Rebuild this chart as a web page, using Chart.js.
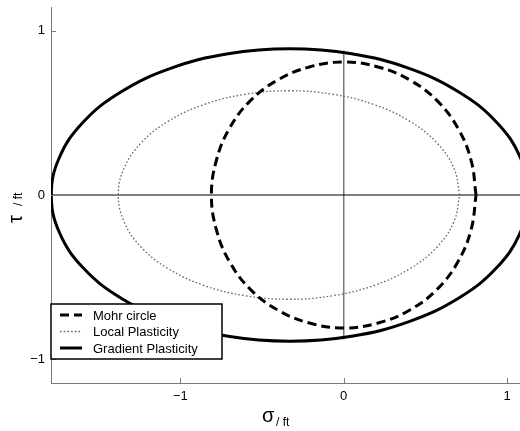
<!DOCTYPE html>
<html>
<head>
<meta charset="utf-8">
<script src="https://cdn.jsdelivr.net/npm/chart.js@4/dist/chart.umd.min.js"></script>
<style>
  html, body { margin: 0; padding: 0; background: #fff; }
  #wrap { width: 520px; height: 431px; }
</style>
</head>
<body>
<div id="wrap"><canvas id="mohrChart"></canvas></div>
<script>
// values (sigma / ft, tau / ft)
const seriesNames = ['Mohr circle', 'Local Plasticity', 'Gradient Plasticity'];

const mohrX = [0.81, 0.78, 0.70, 0.573, 0.405, 0.21, 0, -0.21, -0.405, -0.573, -0.70, -0.78, -0.81, -0.78, -0.70, -0.573, -0.405, -0.21, 0, 0.21, 0.405, 0.573, 0.70, 0.78, 0.81];
const mohrY = [0, 0.21, 0.405, 0.573, 0.70, 0.78, 0.81, 0.78, 0.70, 0.573, 0.405, 0.21, 0, -0.21, -0.405, -0.573, -0.70, -0.78, -0.81, -0.78, -0.70, -0.573, -0.405, -0.21, 0];

const localX = [0.71, 0.674, 0.57, 0.404, 0.188, -0.065, -0.335, -0.605, -0.858, -1.074, -1.24, -1.344, -1.38, -1.344, -1.24, -1.074, -0.858, -0.605, -0.335, -0.065, 0.188, 0.404, 0.57, 0.674, 0.71];
const localY = [0, 0.164, 0.318, 0.449, 0.55, 0.613, 0.635, 0.613, 0.55, 0.449, 0.318, 0.164, 0, -0.164, -0.318, -0.449, -0.55, -0.613, -0.635, -0.613, -0.55, -0.449, -0.318, -0.164, 0];

const gradX = [1.13, 1.08, 0.934, 0.702, 0.40, 0.048, -0.33, -0.708, -1.06, -1.362, -1.594, -1.74, -1.79, -1.74, -1.594, -1.362, -1.06, -0.708, -0.33, 0.048, 0.40, 0.702, 0.934, 1.08, 1.13];
const gradY = [0, 0.23, 0.445, 0.629, 0.771, 0.86, 0.89, 0.86, 0.771, 0.629, 0.445, 0.23, 0, -0.23, -0.445, -0.629, -0.771, -0.86, -0.89, -0.86, -0.771, -0.629, -0.445, -0.23, 0];

// axis reference lines
const hAxisX = [-1.79, 1.08];
const hAxisY = [0, 0];
const vAxisX = [0, 0];
const vAxisY = [-0.88, 0.88];

const tickValues = [-1, 0, 1];
const tickLabels = ['\u22121', '0', '1'];
const xRange = [-1.792, 1.079];
const yRange = [-1.145, 1.145];

const toPts = (xs, ys) => xs.map((x, i) => ({ x: x, y: ys[i] }));

const FONT = '"Liberation Sans", Arial, Helvetica, sans-serif';
const AXIS_GRAY = '#7a7a7a';

// inward ticks, axis titles and the in-plot legend
const overlay = {
  id: 'overlay',
  afterDraw(chart) {
    const ctx = chart.ctx;
    const xs = chart.scales.x, ys = chart.scales.y;
    const area = chart.chartArea;
    ctx.save();

    // tick marks pointing into the plot
    ctx.strokeStyle = AXIS_GRAY;
    ctx.lineWidth = 1;
    tickValues.forEach(v => {
      const px = Math.round(xs.getPixelForValue(v)) + 0.5;
      ctx.beginPath();
      ctx.moveTo(px, area.bottom);
      ctx.lineTo(px, area.bottom - 5);
      ctx.stroke();
      const py = Math.round(ys.getPixelForValue(v)) + 0.5;
      ctx.beginPath();
      ctx.moveTo(area.left, py);
      ctx.lineTo(area.left + 5, py);
      ctx.stroke();
    });

    // x title: sigma / ft
    ctx.fillStyle = '#000';
    ctx.textBaseline = 'alphabetic';
    ctx.textAlign = 'left';
    ctx.font = '20px ' + FONT;
    ctx.fillText('\u03c3', 262, 422);
    ctx.font = '12px ' + FONT;
    ctx.fillText('/ ft', 276, 426);

    // y title: tau / ft (rotated)
    ctx.save();
    ctx.translate(22, 223);
    ctx.rotate(-Math.PI / 2);
    ctx.font = '20px ' + FONT;
    ctx.fillText('\u03c4', 0, 0);
    ctx.font = '12px ' + FONT;
    ctx.fillText('/ ft', 17, 0);
    ctx.restore();

    // legend box
    const lx = 51, ly = 304, lw = 171, lh = 55;
    ctx.fillStyle = '#fff';
    ctx.fillRect(lx, ly, lw, lh);
    ctx.strokeStyle = '#000';
    ctx.lineWidth = 1.5;
    ctx.strokeRect(lx, ly, lw, lh);

    const rows = [315, 331.5, 348];
    const legendSets = chart.data.datasets.filter(d => seriesNames.includes(d.label));
    legendSets.forEach((d, i) => {
      ctx.beginPath();
      ctx.strokeStyle = d.borderColor;
      ctx.lineWidth = d.borderWidth;
      ctx.setLineDash(d.borderDash || []);
      ctx.moveTo(60, rows[i]);
      ctx.lineTo(82, rows[i]);
      ctx.stroke();
      ctx.setLineDash([]);
      ctx.fillStyle = '#000';
      ctx.font = '13px ' + FONT;
      ctx.textBaseline = 'middle';
      ctx.fillText(d.label, 93, rows[i] + 1);
    });
    ctx.restore();
  }
};

new Chart(document.getElementById('mohrChart'), {
  type: 'scatter',
  data: {
    datasets: [
      {
        label: 'h-axis',
        data: toPts(hAxisX, hAxisY),
        showLine: true, borderColor: '#000', borderWidth: 1,
        pointRadius: 0, order: 5
      },
      {
        label: 'v-axis',
        data: toPts(vAxisX, vAxisY),
        showLine: true, borderColor: AXIS_GRAY, borderWidth: 1.5,
        pointRadius: 0, order: 5
      },
      {
        label: seriesNames[0],
        data: toPts(mohrX, mohrY),
        showLine: true, borderColor: '#000', borderWidth: 3,
        borderDash: [9, 5], tension: 0.4, pointRadius: 0
      },
      {
        label: seriesNames[1],
        data: toPts(localX, localY),
        showLine: true, borderColor: '#666', borderWidth: 1.3,
        borderDash: [1.6, 2.1], tension: 0.4, pointRadius: 0
      },
      {
        label: seriesNames[2],
        data: toPts(gradX, gradY),
        showLine: true, borderColor: '#000', borderWidth: 3,
        tension: 0.4, pointRadius: 0
      }
    ]
  },
  options: {
    responsive: true,
    maintainAspectRatio: false,
    animation: false,
    layout: { padding: { top: 7, right: 0, left: 0, bottom: 0 } },
    plugins: {
      legend: { display: false },
      tooltip: { enabled: false }
    },
    scales: {
      x: {
        type: 'linear',
        min: xRange[0], max: xRange[1],
        afterBuildTicks: s => { s.ticks = tickValues.map(v => ({ value: v })); },
        afterFit: s => { s.height = 48; s.paddingLeft = 0; s.paddingRight = 0; },
        ticks: {
          color: '#000', padding: 6,
          font: { family: FONT, size: 13 },
          callback: v => tickLabels[tickValues.indexOf(v)]
        },
        grid: { drawOnChartArea: false, drawTicks: false },
        border: { display: true, color: AXIS_GRAY, width: 1 }
      },
      y: {
        type: 'linear',
        min: yRange[0], max: yRange[1],
        afterBuildTicks: s => { s.ticks = tickValues.map(v => ({ value: v })); },
        afterFit: s => { s.width = 51; s.paddingTop = 0; s.paddingBottom = 0; },
        ticks: {
          color: '#000', padding: 6,
          font: { family: FONT, size: 13 },
          callback: v => tickLabels[tickValues.indexOf(v)]
        },
        grid: { drawOnChartArea: false, drawTicks: false },
        border: { display: true, color: AXIS_GRAY, width: 1 }
      }
    }
  },
  plugins: [overlay]
});
</script>
</body>
</html>
